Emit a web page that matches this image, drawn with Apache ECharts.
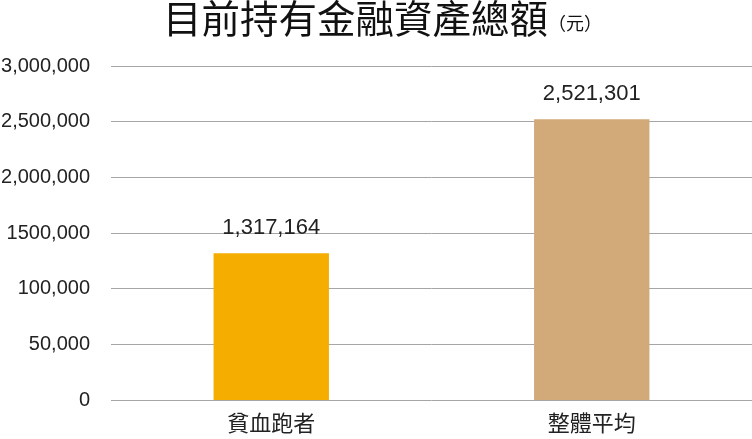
<!DOCTYPE html>
<html><head><meta charset="utf-8">
<script src="https://cdn.jsdelivr.net/npm/echarts@6/dist/echarts.min.js"></script>
<style>html,body{margin:0;padding:0;background:#fff}#c{width:752px;height:439px}</style>
</head><body><div id="c"></div>
<script>
const categories = ['貧血跑者', '整體平均'];
const values = [1317164, 2521301];
const barColors = ['#F5AD00', '#D2A978'];
const yTickLabels = ['0', '50,000', '100,000', '1500,000', '2,000,000', '2,500,000', '3,000,000'];
const titleMain = '目前持有金融資產總額';
const titleUnit = '（元）';

const FONT = '"Liberation Sans", Arial, "Noto Sans CJK TC", sans-serif';
const chart = echarts.init(document.getElementById('c'), null, {renderer: 'canvas'});
chart.setOption({
  animation: false,
  title: {
    text: '{a|' + titleMain + '}{b|' + titleUnit + '}',
    left: 163, top: -1, padding: 0,
    textStyle: {
      rich: {
        a: {fontSize: 38.5, fontWeight: 'normal', color: '#111', fontFamily: '"Noto Sans CJK TC", sans-serif', verticalAlign: 'bottom'},
        b: {fontSize: 18, fontWeight: 'normal', color: '#111', fontFamily: '"Noto Sans CJK TC", sans-serif', verticalAlign: 'bottom', padding: [0,0,5,0]}
      }
    }
  },
  grid: {left: 111, right: 0, top: 66, bottom: 39, containLabel: false, outerBoundsMode: 'none'},
  xAxis: {
    type: 'category', data: categories,
    axisLine: {show: false}, axisTick: {show: false},
    axisLabel: {fontSize: 22, color: '#222', fontFamily: '"Noto Sans CJK TC", sans-serif', margin: 12}
  },
  yAxis: {
    type: 'value', min: 0, max: 3000000, interval: 500000,
    axisLine: {show: false}, axisTick: {show: false},
    splitLine: {lineStyle: {color: '#A6A6A6', width: 1}},
    axisLabel: {
      fontSize: 20, color: '#222', fontFamily: FONT, margin: 21,
      formatter: (v) => yTickLabels[Math.round(v / 500000)]
    }
  },
  series: [{
    type: 'bar', barWidth: '36%',
    data: values.map((v, i) => ({value: v, itemStyle: {color: barColors[i]}})),
    label: {
      show: true, position: 'top', distance: 14,
      fontSize: 22, color: '#222', fontFamily: FONT,
      formatter: (p) => p.value.toLocaleString('en-US')
    }
  }]
});
</script></body></html>
